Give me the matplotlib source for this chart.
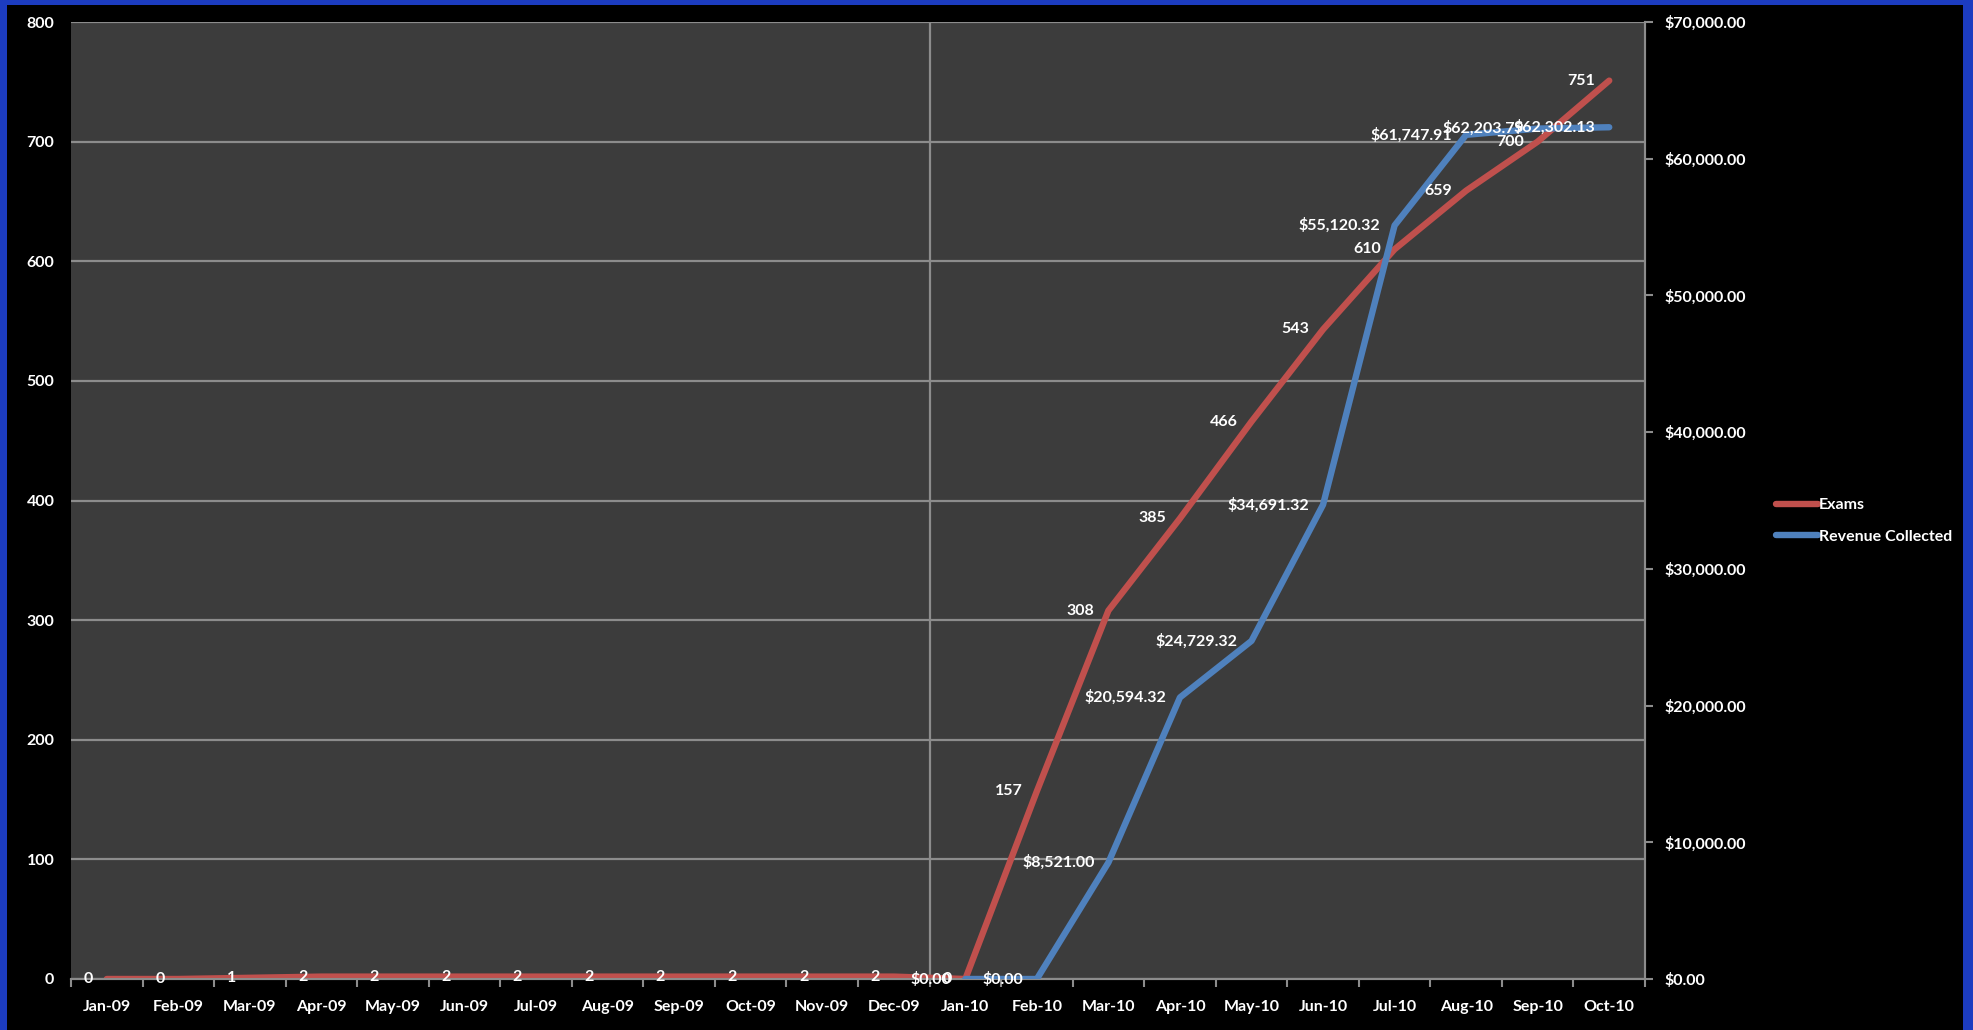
import matplotlib
matplotlib.use("Agg")
import matplotlib.pyplot as plt
import numpy as np
from matplotlib.ticker import FuncFormatter, FixedLocator

months = ["Jan-09", "Feb-09", "Mar-09", "Apr-09", "May-09", "Jun-09", "Jul-09",
          "Aug-09", "Sep-09", "Oct-09", "Nov-09", "Dec-09", "Jan-10", "Feb-10",
          "Mar-10", "Apr-10", "May-10", "Jun-10", "Jul-10", "Aug-10", "Sep-10", "Oct-10"]
exams = [0, 0, 1, 2, 2, 2, 2, 2, 2, 2, 2, 2, 0, 157, 308, 385, 466, 543, 610, 659, 700, 751]
revenue = [np.nan] * 12 + [0.00, 0.00, 8521.00, 20594.32, 24729.32, 34691.32,
                           55120.32, 61747.91, 62203.79, 62302.13]
left_ticks = [0, 100, 200, 300, 400, 500, 600, 700, 800]
right_ticks = [0, 10000, 20000, 30000, 40000, 50000, 60000, 70000]

FONT = "Lato"
RED = "#c0504d"
BLUE = "#4f81bd"
GRID = "#8c8c8c"

fig = plt.figure(figsize=(19.73, 10.30), dpi=100, facecolor="#1c3cc0")
# black inner panel (blue frame around)
fig.patches.append(plt.Rectangle((7 / 1973, 0), (1963 - 7) / 1973, 1 - 5 / 1030,
                                 transform=fig.transFigure, facecolor="black",
                                 edgecolor="none", zorder=-5))

ax = fig.add_axes([71 / 1973, 1 - 979 / 1030, (1645 - 71) / 1973, (979 - 22) / 1030])
ax.set_facecolor("#3c3c3c")
ax2 = ax.twinx()

x = np.arange(len(months))
ax.plot(x, exams, color=RED, lw=4.6, solid_capstyle="round", label="Exams", zorder=3)
ax2.plot(x, revenue, color=BLUE, lw=4.6, solid_capstyle="round", label="Revenue Collected", zorder=3)

ax.set_xlim(-0.5, len(months) - 0.5)
ax.set_ylim(0, 800)
ax2.set_ylim(0, 70000)

ax.yaxis.set_major_locator(FixedLocator(left_ticks))
ax2.yaxis.set_major_locator(FixedLocator(right_ticks))
ax2.yaxis.set_major_formatter(FuncFormatter(lambda v, p: f"${v:,.2f}"))

ax.set_xticks(x)
ax.set_xticklabels(months)
ax.set_xticks(np.arange(-0.5, len(months)), minor=True)

ax.grid(axis="y", color=GRID, lw=1.6, zorder=1)
ax.set_axisbelow(True)
ax.axvline(11.5, color=GRID, lw=1.6, zorder=1)

for a in (ax, ax2):
    for s in a.spines.values():
        s.set_color(GRID)
        s.set_linewidth(1.5)
ax.spines["left"].set_visible(False)
ax.spines["top"].set_visible(False)
ax2.spines["left"].set_visible(False)
ax2.spines["top"].set_visible(False)

ax.tick_params(axis="y", length=0, pad=12, labelcolor="white", labelsize=11.5)
ax.tick_params(axis="x", which="major", length=0, pad=15, labelcolor="white", labelsize=11.5)
ax.tick_params(axis="x", which="minor", length=6, width=1.5, color=GRID)
ax2.tick_params(axis="y", length=6, width=1.5, color=GRID, pad=8, labelcolor="white", labelsize=11.5)
for lab in ax.get_xticklabels() + ax.get_yticklabels() + ax2.get_yticklabels():
    lab.set_fontfamily(FONT)
    lab.set_fontweight("bold")

# data labels
for i, v in enumerate(exams):
    ax2.annotate(f"{v}", xy=(i, v), xycoords=ax.transData, xytext=(-10, 0),
                 textcoords="offset points", ha="right", va="center",
                 color="white", fontsize=11.5, fontfamily=FONT, fontweight="bold", zorder=6)
for i, v in enumerate(revenue):
    if np.isnan(v):
        continue
    ax2.annotate(f"${v:,.2f}", xy=(i, v), xytext=(-10, 0),
                 textcoords="offset points", ha="right", va="center",
                 color="white", fontsize=11.5, fontfamily=FONT, fontweight="bold", zorder=6)

h1, l1 = ax.get_legend_handles_labels()
h2, l2 = ax2.get_legend_handles_labels()
leg = fig.legend(h1 + h2, l1 + l2, loc="center left", bbox_to_anchor=(1768 / 1973, 1 - 521 / 1030),
                 frameon=False, handlelength=2.6, handletextpad=0.1, labelspacing=1.1,
                 borderpad=0, prop={"family": FONT, "weight": "bold", "size": 11.5})
for t in leg.get_texts():
    t.set_color("white")

fig.savefig("out.png", dpi=100, facecolor=fig.get_facecolor())
